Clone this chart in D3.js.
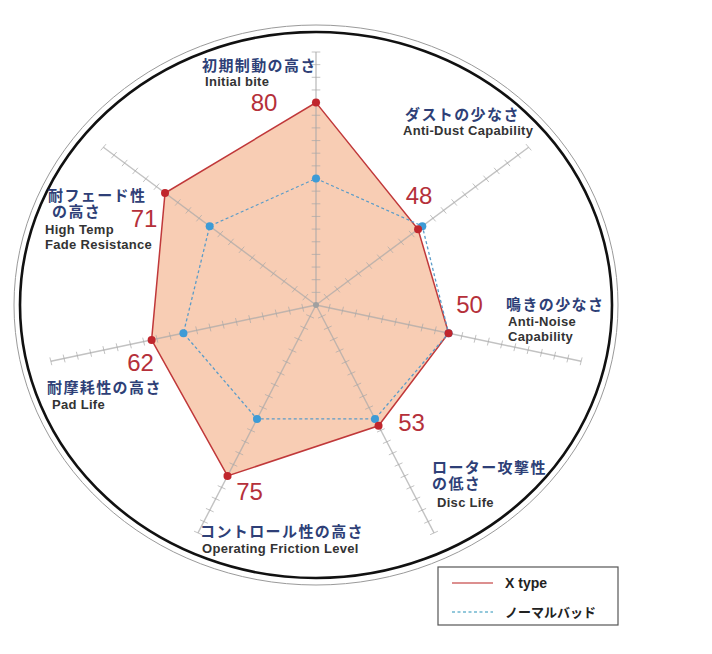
<!DOCTYPE html>
<html>
<head>
<meta charset="utf-8">
<script src="https://cdn.jsdelivr.net/npm/d3@7"></script>
<style>
  html, body { margin: 0; padding: 0; background: #fff; }
</style>
</head>
<body>
<div id="container"></div>
<script>
// 数据
const categoriesJa = [
  ['初期制動の高さ'],
  ['ダストの少なさ'],
  ['鳴きの少なさ'],
  ['ローター攻撃性', 'の低さ'],
  ['コントロール性の高さ'],
  ['耐摩耗性の高さ'],
  ['耐フェード性', 'の高さ']
];
const categoriesEn = [
  ['Initial bite'],
  ['Anti-Dust Capability'],
  ['Anti-Noise', 'Capability'],
  ['Disc Life'],
  ['Operating Friction Level'],
  ['Pad Life'],
  ['High Temp', 'Fade Resistance']
];
const xTypeValues = [80, 48, 50, 53, 75, 62, 71];
const normalValues = [50, 50, 50, 50, 50, 50, 50];
const seriesNames = ['X type', 'ノーマルバッド'];
const tickValues = d3.range(5, 101, 5);

// 画布
let width = 712;
let height = 654;
let cx = 316, cy = 305;
let stretchX = 1.075;

// label 位置 (左对齐基线)
const labelLayout = [
  { jx: 202, jy: 71, ex: 205, ey: 85.5 },
  { jx: 405, jy: 120, ex: 403, ey: 135 },
  { jx: 506, jy: 310, ex: 508, ey: 326 },
  { jx: 432, jy: 473, ex: 437, ey: 507 },
  { jx: 200, jy: 537, ex: 202, ey: 553 },
  { jx: 47, jy: 392.5, ex: 52, ey: 408.5 },
  { jx: 48, jy: 201, ex: 45, ey: 234 }
];
// 数值标签相对点的偏移
const valueOffset = [
  [-52, 8], [1, -25], [21, -20], [33, 5], [22, 24], [-11, 31], [-21, 34]
];

let svg = d3.create('svg').attr('width', width).attr('height', height);

let rScale = d3.scaleLinear().domain([0, 100]).range([0, 253]);
let angle = d3.scaleLinear().domain([0, categoriesJa.length]).range([0, 2 * Math.PI]);

function pt(i, v, off) {
  let a = angle(i);
  let r = rScale(v);
  let o = off || 0;
  // 垂直于轴的偏移
  let x = r * Math.sin(a) + o * Math.cos(a);
  let y = -r * Math.cos(a) + o * Math.sin(a);
  return [cx + x * stretchX, cy + y];
}

// 外圈
svg.append('ellipse')
  .attr('cx', cx).attr('cy', cy).attr('rx', 302).attr('ry', 280)
  .attr('fill', 'none').attr('stroke', '#9a9a9a').attr('stroke-width', 1);
svg.append('ellipse')
  .attr('cx', cx).attr('cy', cy).attr('rx', 296).attr('ry', 273)
  .attr('fill', 'none').attr('stroke', '#111').attr('stroke-width', 2.6);

let line = d3.line().curve(d3.curveLinearClosed);

// X type 填充
svg.append('path')
  .attr('d', line(xTypeValues.map((v, i) => pt(i, v))))
  .attr('fill', '#f8cdb4')
  .attr('stroke', 'none');

// 轴线和刻度
let axes = svg.append('g').attr('stroke', '#a8a8a8').attr('stroke-opacity', 0.7);
categoriesJa.forEach((c, i) => {
  let p0 = pt(i, 0), p1 = pt(i, 100);
  axes.append('line')
    .attr('x1', p0[0]).attr('y1', p0[1])
    .attr('x2', p1[0]).attr('y2', p1[1])
    .attr('stroke-width', 1.4);
  axes.selectAll(null)
    .data(tickValues)
    .enter()
    .append('line')
    .attr('x1', d => pt(i, d, -4)[0])
    .attr('y1', d => pt(i, d, -4)[1])
    .attr('x2', d => pt(i, d, 4)[0])
    .attr('y2', d => pt(i, d, 4)[1])
    .attr('stroke-width', 1);
});
svg.append('circle').attr('cx', cx).attr('cy', cy).attr('r', 3).attr('fill', '#a0a0a0');

// X type 线
svg.append('path')
  .attr('d', line(xTypeValues.map((v, i) => pt(i, v))))
  .attr('fill', 'none')
  .attr('stroke', '#c0383a')
  .attr('stroke-width', 1.5);

// ノーマルバッド 线
svg.append('path')
  .attr('d', line(normalValues.map((v, i) => pt(i, v))))
  .attr('fill', 'none')
  .attr('stroke', '#5b9cc8')
  .attr('stroke-width', 1.3)
  .attr('stroke-dasharray', '3,2.5');

svg.selectAll('.normal-dot')
  .data(normalValues)
  .enter()
  .append('circle')
  .attr('class', 'normal-dot')
  .attr('cx', (d, i) => pt(i, d)[0])
  .attr('cy', (d, i) => pt(i, d)[1])
  .attr('r', 4)
  .attr('fill', '#3d9bd6');

svg.selectAll('.x-dot')
  .data(xTypeValues)
  .enter()
  .append('circle')
  .attr('class', 'x-dot')
  .attr('cx', (d, i) => pt(i, d)[0])
  .attr('cy', (d, i) => pt(i, d)[1])
  .attr('r', 4)
  .attr('fill', '#c0262d');

// 数值标签
svg.selectAll('.value-label')
  .data(xTypeValues)
  .enter()
  .append('text')
  .attr('class', 'value-label')
  .attr('x', (d, i) => pt(i, d)[0] + valueOffset[i][0])
  .attr('y', (d, i) => pt(i, d)[1] + valueOffset[i][1])
  .attr('text-anchor', 'middle')
  .attr('font-family', '"Liberation Sans", Arial, sans-serif')
  .attr('font-size', '24px')
  .attr('fill', '#b5303a')
  .text(d => d);

// 类别标签 (多行用 tspan)
categoriesJa.forEach((lines, i) => {
  let lay = labelLayout[i];
  let ja = svg.append('text')
    .attr('x', lay.jx)
    .attr('y', lay.jy)
    .attr('font-family', '"Noto Sans CJK JP", sans-serif')
    .attr('font-weight', 700)
    .attr('font-size', '15px')
    .attr('letter-spacing', '1.4px')
    .attr('fill', '#2e3f77');
  lines.forEach((t, k) => {
    ja.append('tspan')
      .attr('x', lay.jx + (k > 0 && i === 6 ? 4 : 0))
      .attr('y', lay.jy + k * 16)
      .text(t);
  });
  let en = svg.append('text')
    .attr('x', lay.ex)
    .attr('y', lay.ey)
    .attr('font-family', '"Liberation Sans", Arial, sans-serif')
    .attr('font-weight', 600)
    .attr('font-size', '13px')
    .attr('letter-spacing', '0.3px')
    .attr('fill', '#333');
  categoriesEn[i].forEach((t, k) => {
    en.append('tspan')
      .attr('x', lay.ex)
      .attr('y', lay.ey + k * 14.6)
      .text(t);
  });
});

// 图例
let legend = svg.append('g');
legend.append('rect')
  .attr('x', 438).attr('y', 567).attr('width', 180).attr('height', 58)
  .attr('fill', '#fff').attr('stroke', '#555').attr('stroke-width', 1.2);
legend.append('line')
  .attr('x1', 452).attr('y1', 583).attr('x2', 493).attr('y2', 583)
  .attr('stroke', '#d06a6a').attr('stroke-width', 1.4);
legend.append('line')
  .attr('x1', 452).attr('y1', 612).attr('x2', 493).attr('y2', 612)
  .attr('stroke', '#6fb7d0').attr('stroke-width', 1.3)
  .attr('stroke-dasharray', '3,2.5');
legend.append('text')
  .attr('x', 505).attr('y', 588)
  .attr('font-family', '"Liberation Sans", Arial, sans-serif')
  .attr('font-weight', 600)
  .attr('font-size', '14px')
  .attr('fill', '#222')
  .text(seriesNames[0]);
legend.append('text')
  .attr('x', 505).attr('y', 617)
  .attr('font-family', '"Noto Sans CJK JP", sans-serif')
  .attr('font-weight', 700)
  .attr('font-size', '13px')
  .attr('fill', '#222')
  .text(seriesNames[1]);

d3.select('#container').append(() => svg.node());
</script>
</body>
</html>
